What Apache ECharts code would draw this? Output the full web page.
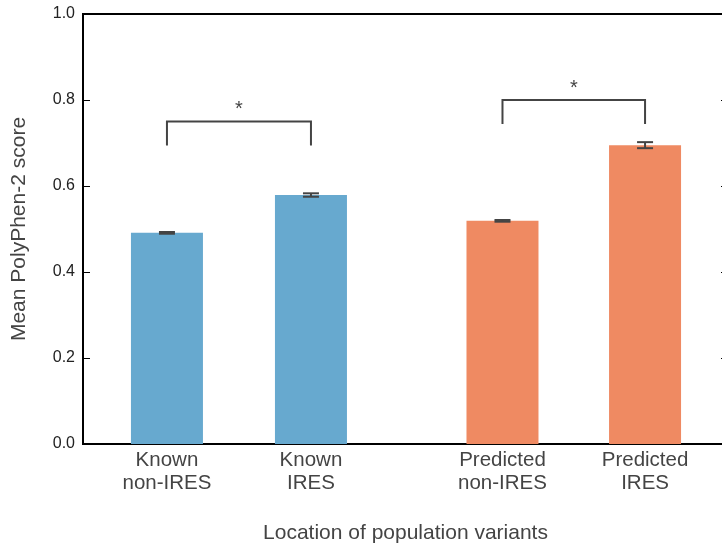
<!DOCTYPE html>
<html>
<head>
<meta charset="utf-8">
<script src="https://cdn.jsdelivr.net/npm/echarts@6/dist/echarts.min.js"></script>
<style>html,body{margin:0;padding:0;background:#fff;overflow:hidden}#c{width:722px;height:546px}</style>
</head>
<body>
<div id="c"></div>
<script>
// ---- data ----
var categories = ['Known\nnon-IRES', 'Known\nIRES', 'Predicted\nnon-IRES', 'Predicted\nIRES'];
var xPositions = [0, 1, 2.33, 3.32];
var meanScores = [0.491, 0.579, 0.519, 0.695];
var errors = [0.002, 0.004, 0.002, 0.007];
var barColors = ['#67a9cf', '#67a9cf', '#ef8a62', '#ef8a62'];
var yTicks = [0, 0.2, 0.4, 0.6, 0.8, 1.0];
var bracketFrom = [0, 2.33];
var bracketTo = [1, 3.32];
var bracketTop = [0.75, 0.80];
var bracketBottom = [0.694, 0.744];
var bracketText = ['*', '*'];

var chart = echarts.init(document.getElementById('c'), null, {renderer: 'canvas'});
var font = 'Liberation Sans, Arial, Helvetica, sans-serif';

var barData = xPositions.map(function (x, i) {
  return {value: [x, meanScores[i]], itemStyle: {color: barColors[i]}};
});
var errData = xPositions.map(function (x, i) { return [x, meanScores[i], errors[i]]; });
var brData = bracketFrom.map(function (x, i) {
  return [x, bracketTo[i], bracketTop[i], bracketBottom[i], i];
});

var option = {
  animation: false,
  grid: {left: 83, top: 14, width: 645, bottom: 102, containLabel: false, outerBoundsMode: 'none',
         show: true, borderColor: '#000', borderWidth: 2, backgroundColor: 'transparent'},
  xAxis: {
    type: 'value', min: -0.583, max: 3.896,
    axisLine: {show: true, onZero: false, lineStyle: {color: '#000', width: 2}},
    axisTick: {show: false},
    splitLine: {show: false},
    axisLabel: {
      customValues: xPositions,
      formatter: function (v) {
        var best = 0, d = 1e9;
        xPositions.forEach(function (p, i) { if (Math.abs(p - v) < d) { d = Math.abs(p - v); best = i; } });
        return categories[best];
      },
      color: '#444', fontFamily: font, fontSize: 20.5, lineHeight: 23, margin: 5
    },
    name: 'Location of population variants',
    nameLocation: 'middle', nameGap: 79,
    nameTextStyle: {color: '#444', fontFamily: font, fontSize: 21}
  },
  yAxis: [{
    type: 'value', min: 0, max: 1.0, interval: 0.2,
    axisLine: {show: true, onZero: false, lineStyle: {color: '#000', width: 2}},
    axisTick: {show: true, inside: true, length: 7, lineStyle: {color: '#000', width: 1}},
    splitLine: {show: false},
    axisLabel: {
      color: '#222', fontFamily: font, fontSize: 16, margin: 8,
      formatter: function (v) { return v.toFixed(1); }
    },
    name: 'Mean PolyPhen-2 score',
    nameLocation: 'middle', nameGap: 53,
    nameTextStyle: {color: '#444', fontFamily: font, fontSize: 21}
  }, {
    type: 'value', min: 0, max: 1.0, interval: 0.2, position: 'right',
    axisLine: {show: true, onZero: false, lineStyle: {color: '#000', width: 2}},
    axisTick: {show: true, inside: true, length: 7, lineStyle: {color: '#000', width: 1}},
    splitLine: {show: false},
    axisLabel: {show: false}
  }],
  series: [{
    type: 'bar',
    data: barData,
    barWidth: 72,
    z: 2
  }, {
    type: 'custom',
    data: errData,
    z: 5,
    renderItem: function (params, api) {
      var x = api.value(0), m = api.value(1), e = api.value(2);
      var hi = api.coord([x, m + e]), lo = api.coord([x, m - e]);
      var st = {stroke: '#444', lineWidth: 2};
      return {type: 'group', children: [
        {type: 'line', shape: {x1: hi[0], y1: hi[1], x2: lo[0], y2: lo[1]}, style: st},
        {type: 'line', shape: {x1: hi[0] - 8, y1: hi[1], x2: hi[0] + 8, y2: hi[1]}, style: st},
        {type: 'line', shape: {x1: lo[0] - 8, y1: lo[1], x2: lo[0] + 8, y2: lo[1]}, style: st}
      ]};
    }
  }, {
    type: 'custom',
    data: brData,
    z: 5,
    renderItem: function (params, api) {
      var x1 = api.value(0), x2 = api.value(1), t = api.value(2), b = api.value(3), idx = api.value(4);
      var a = api.coord([x1, b]), c = api.coord([x1, t]), d = api.coord([x2, t]), e = api.coord([x2, b]);
      return {type: 'group', children: [
        {type: 'polyline', shape: {points: [a, c, d, e]}, style: {stroke: '#444', lineWidth: 2, fill: null}},
        {type: 'text', style: {text: bracketText[idx], x: (c[0] + d[0]) / 2, y: c[1] - 2, align: 'center', verticalAlign: 'bottom', fill: '#444', font: '20px ' + font}}
      ]};
    }
  }]
};
chart.setOption(option);
</script>
</body>
</html>
